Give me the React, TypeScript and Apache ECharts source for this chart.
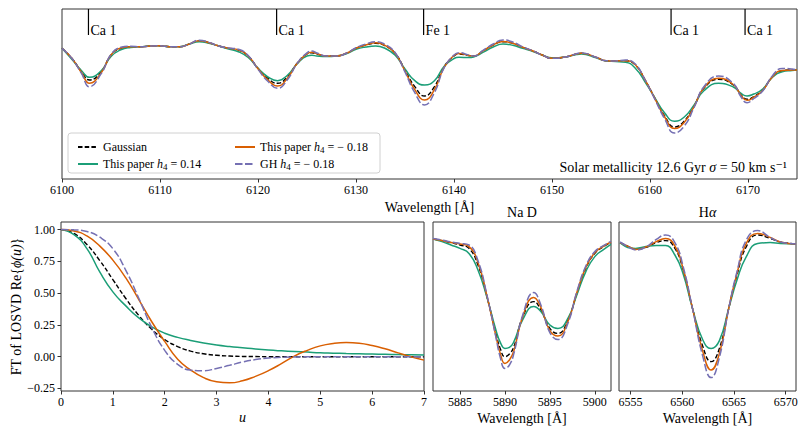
import React, { useEffect, useRef } from "react";
import * as echarts from "echarts";

// ---------- names ----------
const N_GAUSS = "Gaussian";
const N_POS = "This paper h4 = 0.14";
const N_NEG = "This paper h4 = -0.18";
const N_GH = "GH h4 = -0.18";

// ---------- top panel: 6100-6175 Å ----------
const WL_TOP = [
  6100, 6101, 6102, 6102.8, 6104, 6105, 6106, 6107, 6108, 6109,
  6110, 6111, 6112, 6113, 6114, 6115, 6116, 6117, 6118, 6119,
  6120, 6121, 6122, 6123, 6124, 6125, 6125.5, 6126, 6127, 6128,
  6129, 6130, 6131, 6132, 6133, 6134, 6135, 6136, 6137, 6138,
  6139, 6140, 6140.5, 6141.5, 6142, 6143, 6144, 6145, 6146, 6147,
  6148, 6149, 6150, 6151.5, 6152.5, 6153, 6154.5, 6155.5, 6156.5, 6157.5,
  6158.5, 6159.5, 6160.5, 6161.5, 6162.5, 6163.5, 6164.5, 6165.5, 6167, 6168.5,
  6169.3, 6169.9, 6170.6, 6171.5, 6172.5, 6173.5, 6174.5, 6175,
];
const TOP_GAUSS = [
  95.85, 90.85, 84.15, 80.0, 84.15, 92.5, 95.85, 96.65, 96.65, 97.0,
  97.15, 96.65, 96.65, 98.0, 99.65, 98.65, 97.0, 95.85, 95.0, 92.0,
  85.85, 80.85, 78.35, 81.65, 88.35, 93.0, 93.65, 93.0, 92.0, 92.0,
  93.35, 95.85, 97.5, 98.35, 97.0, 93.35, 85.0, 76.65, 72.0, 76.65,
  86.65, 92.0, 93.0, 92.25, 92.0, 94.65, 97.5, 99.15, 98.35, 96.35,
  94.65, 92.5, 90.85, 91.65, 93.0, 93.35, 91.35, 89.65, 89.5, 89.65,
  87.5, 80.0, 70.85, 62.0, 56.5, 59.5, 67.0, 75.85, 80.35, 77.5,
  72.5, 70.35, 71.75, 75.0, 81.65, 84.65, 85.0, 85.0,
];
const TOP_POS = [
  95.85, 90.35, 84.65, 81.35, 84.65, 91.75, 95.1, 96.3, 96.65, 97.0,
  97.15, 96.65, 96.65, 98.0, 99.15, 98.4, 97.0, 95.5, 94.15, 91.25,
  85.85, 81.6, 79.65, 82.4, 88.1, 92.0, 92.35, 92.0, 91.75, 92.0,
  93.1, 95.35, 96.5, 97.0, 95.75, 92.35, 85.5, 79.65, 77.5, 79.65,
  86.9, 90.75, 91.35, 91.25, 91.5, 93.9, 96.5, 98.0, 97.35, 95.85,
  94.4, 92.5, 91.1, 91.65, 92.75, 93.0, 91.1, 89.5, 89.25, 88.9,
  85.85, 79.0, 71.1, 63.5, 59.35, 61.5, 67.5, 74.6, 78.35, 76.5,
  73.25, 72.0, 73.0, 75.5, 81.4, 84.15, 84.75, 85.0,
];
const TOP_NEG = [
  95.85, 90.85, 83.65, 78.35, 83.65, 92.5, 96.0, 96.65, 96.65, 97.0,
  97.15, 96.65, 96.65, 98.0, 99.65, 98.65, 97.0, 95.85, 95.0, 92.0,
  85.6, 80.1, 77.0, 80.9, 88.35, 93.15, 93.9, 93.15, 92.0, 92.0,
  93.35, 95.85, 97.5, 98.6, 97.15, 93.35, 84.5, 75.15, 70.0, 75.15,
  86.4, 92.25, 93.25, 92.25, 92.0, 94.65, 97.5, 99.3, 98.35, 96.35,
  94.65, 92.5, 90.85, 91.65, 93.0, 93.35, 91.35, 89.65, 89.5, 89.65,
  87.65, 80.0, 70.7, 61.5, 55.7, 58.85, 66.75, 76.1, 80.85, 77.75,
  72.25, 69.85, 71.4, 74.75, 81.65, 84.8, 85.0, 85.0,
];
const TOP_GH = [
  95.85, 90.85, 83.15, 76.65, 83.15, 92.75, 96.35, 96.9, 96.65, 97.0,
  97.15, 96.65, 96.65, 98.0, 99.9, 98.8, 97.0, 96.0, 95.35, 92.25,
  85.35, 79.35, 75.85, 80.15, 88.35, 93.6, 94.5, 93.5, 92.0, 92.0,
  93.35, 96.1, 98.0, 99.15, 97.75, 93.6, 84.0, 73.65, 67.5, 73.65,
  86.15, 92.5, 93.65, 92.5, 92.0, 94.9, 98.0, 100.0, 99.0, 96.6,
  94.65, 92.5, 90.85, 91.65, 93.15, 93.5, 91.35, 89.65, 89.5, 90.0,
  88.0, 80.0, 70.35, 60.5, 53.5, 57.0, 66.25, 76.6, 82.0, 78.25,
  71.5, 68.65, 70.75, 74.5, 82.15, 85.8, 85.5, 85.0,
];
const TOP_X_TICKS = [6100, 6110, 6120, 6130, 6140, 6150, 6160, 6170];
const TOP_X_MIN = 6100;
const TOP_X_MAX = 6175;
const TOP_Y_MIN = 30.5;
const TOP_Y_MAX = 115.5;

// spectral line markers
const LINE_WL = [6102.7, 6121.9, 6136.9, 6162.15, 6169.7];
const LINE_NAMES = ["Ca 1", "Ca 1", "Fe 1", "Ca 1", "Ca 1"];

// ---------- FT of LOSVD ----------
const U = [
  0, 0.25, 0.5, 0.75, 1.0, 1.25, 1.5, 1.75, 2.0, 2.25,
  2.5, 2.75, 3.0, 3.25, 3.5, 3.75, 4.0, 4.25, 4.5, 4.75,
  5.0, 5.25, 5.5, 5.75, 6.0, 6.25, 6.5, 6.75, 7.0,
];
const FT_GAUSS = [
  1.0, 0.97, 0.883, 0.755, 0.607, 0.458, 0.325, 0.216, 0.135, 0.08,
  0.044, 0.023, 0.011, 0.005, 0.002, 0.001, 0, 0, 0, 0,
  0, 0, 0, 0, 0, 0, 0, 0, 0,
];
const FT_POS = [
  1.0, 0.96, 0.85, 0.665, 0.51, 0.4, 0.305, 0.235, 0.185, 0.152,
  0.128, 0.108, 0.092, 0.08, 0.07, 0.06, 0.052, 0.046, 0.041, 0.036,
  0.031, 0.028, 0.025, 0.023, 0.021, 0.019, 0.017, 0.015, 0.013,
];
const FT_NEG = [
  1.0, 0.99, 0.95, 0.87, 0.76, 0.62, 0.45, 0.275, 0.12, -0.02,
  -0.105, -0.165, -0.198, -0.206, -0.19, -0.155, -0.11, -0.055, 0.005, 0.05,
  0.085, 0.104, 0.111, 0.106, 0.088, 0.062, 0.03, 0.0, -0.027,
];
const FT_GH = [
  1.0, 0.998, 0.985, 0.94, 0.85, 0.68, 0.46, 0.23, 0.05, -0.06,
  -0.105, -0.11, -0.093, -0.068, -0.042, -0.023, -0.011, -0.005, -0.002, -0.001,
  0, 0, 0, 0, 0, 0, 0, 0, 0,
];
const FT_X_MIN = 0;
const FT_X_MAX = 7;
const FT_Y_MIN = -0.27;
const FT_Y_MAX = 1.06;
const FT_Y_TICKS = [-0.25, 0, 0.25, 0.5, 0.75, 1.0];

// ---------- Na D ----------
const WL_NAD = [
  5882, 5883, 5884, 5885, 5886, 5887, 5888, 5889, 5889.5, 5890,
  5890.5, 5891, 5892, 5893.2, 5894, 5895, 5895.9, 5897, 5898, 5899,
  5900, 5901, 5901.8,
];
const NAD_GAUSS = [
  1.005, 0.997, 0.987, 0.975, 0.958, 0.875, 0.717, 0.533, 0.455, 0.417,
  0.43, 0.467, 0.617, 0.692, 0.65, 0.558, 0.533, 0.6, 0.733, 0.858,
  0.933, 0.967, 0.987,
];
const NAD_POS = [
  1.005, 0.992, 0.975, 0.958, 0.933, 0.85, 0.713, 0.55, 0.487, 0.458,
  0.463, 0.492, 0.603, 0.667, 0.642, 0.575, 0.558, 0.608, 0.725, 0.842,
  0.917, 0.953, 0.978,
];
const NAD_NEG = [
  1.005, 0.997, 0.987, 0.98, 0.967, 0.887, 0.72, 0.52, 0.43, 0.383,
  0.4, 0.447, 0.62, 0.713, 0.663, 0.547, 0.52, 0.592, 0.737, 0.863,
  0.937, 0.97, 0.99,
];
const NAD_GH = [
  1.007, 1.0, 0.99, 0.983, 0.975, 0.897, 0.725, 0.513, 0.41, 0.358,
  0.375, 0.433, 0.627, 0.737, 0.675, 0.537, 0.503, 0.583, 0.742, 0.87,
  0.942, 0.973, 0.993,
];
const NAD_X_MIN = 5882;
const NAD_X_MAX = 5901.8;
const NAD_X_TICKS = [5885, 5890, 5895, 5900];

// ---------- H alpha ----------
const WL_HA = [
  6554, 6555, 6555.5, 6556.5, 6557.5, 6558.4, 6559.3, 6560.1, 6561, 6562,
  6562.8, 6563.6, 6564.5, 6565.3, 6566.2, 6567.3, 6568.5, 6569.5, 6571,
];
const HA_GAUSS = [
  0.987, 0.963, 0.953, 0.963, 0.987, 0.997, 0.958, 0.85, 0.658, 0.467,
  0.392, 0.458, 0.658, 0.825, 0.967, 1.025, 1.008, 0.99, 0.98,
];
const HA_POS = [
  0.987, 0.96, 0.958, 0.967, 0.973, 0.972, 0.925, 0.83, 0.658, 0.5,
  0.458, 0.497, 0.658, 0.8, 0.917, 0.983, 0.987, 0.983, 0.98,
];
const HA_NEG = [
  0.987, 0.963, 0.953, 0.965, 0.992, 1.007, 0.97, 0.855, 0.658, 0.442,
  0.35, 0.433, 0.658, 0.833, 0.983, 1.033, 1.013, 0.99, 0.98,
];
const HA_GH = [
  0.99, 0.96, 0.95, 0.965, 1.003, 1.025, 0.987, 0.867, 0.658, 0.417,
  0.312, 0.413, 0.658, 0.842, 1.0, 1.047, 1.013, 0.99, 0.98,
];
const HA_X_MIN = 6553.9;
const HA_X_MAX = 6571.0;
const HA_X_TICKS = [6555, 6560, 6565, 6570];

const SMALL_Y_MIN = 0.245;
const SMALL_Y_MAX = 1.09;

// ---------- styling ----------
const SERIF = "Liberation Serif, DejaVu Serif, serif";
const FRAME = "#333333";
const STYLES: Record<string, any> = {
  [N_GAUSS]: { color: "#000000", width: 1.4, type: [4.5, 2.2] },
  [N_POS]: { color: "#1b9e77", width: 1.5, type: "solid" },
  [N_NEG]: { color: "#d95f02", width: 1.5, type: "solid" },
  [N_GH]: { color: "#7570b3", width: 1.5, type: [7.5, 2.5] },
};
const LEGEND_TEXT: Record<string, string> = {
  [N_GAUSS]: "Gaussian",
  [N_POS]: "This paper {i|h}{s|4} = 0.14",
  [N_NEG]: "This paper {i|h}{s|4} = − 0.18",
  [N_GH]: "GH {i|h}{s|4} = − 0.18",
};

function lineSeries(name: string, xs: number[], ys: number[], idx: number) {
  const st = STYLES[name];
  return {
    type: "line",
    name,
    xAxisIndex: idx,
    yAxisIndex: idx,
    data: xs.map((x, i) => [x, ys[i]]),
    symbol: "none",
    showSymbol: false,
    smooth: 0.5,
    clip: true,
    silent: true,
    color: st.color,
    lineStyle: { color: st.color, width: st.width, type: st.type },
  };
}

function panelSeries(xs: number[], sets: number[][], idx: number) {
  const names = [N_GAUSS, N_POS, N_NEG, N_GH];
  return names.map((n, k) => lineSeries(n, xs, sets[k], idx));
}

const plain = (v: number) => String(v);
const tickLabel = { fontFamily: SERIF, fontSize: 12, color: "#000", margin: 5 };
const nameStyle = { fontFamily: SERIF, fontSize: 14, color: "#000" };
const gridBase = {
  show: true,
  borderColor: FRAME,
  borderWidth: 1,
  backgroundColor: "transparent",
  containLabel: false,
  outerBoundsMode: "none",
};

function xAxisDef(idx: number, min: number, max: number, ticks: number[] | null, name: string, gap: number, extra: any = {}) {
  const ax: any = {
    type: "value",
    gridIndex: idx,
    min,
    max,
    name,
    nameLocation: "middle",
    nameGap: gap,
    nameTextStyle: nameStyle,
    axisLine: { show: false, onZero: false },
    axisTick: { show: true, inside: false, length: 3.5, lineStyle: { color: FRAME, width: 1 } },
    axisLabel: { ...tickLabel, formatter: plain },
    splitLine: { show: false },
    ...extra,
  };
  if (ticks) {
    ax.axisTick.customValues = ticks;
    ax.axisLabel.customValues = ticks;
  }
  return ax;
}

function hiddenY(idx: number, min: number, max: number) {
  return {
    type: "value",
    gridIndex: idx,
    min,
    max,
    show: false,
    axisLine: { show: false, onZero: false },
    axisTick: { show: false },
    axisLabel: { show: false },
    splitLine: { show: false },
  };
}

function buildOption() {
  const legendCommon = {
    orient: "vertical",
    itemWidth: 20,
    itemHeight: 14,
    itemGap: 3,
    selectedMode: false,
    itemStyle: { opacity: 0 },
    formatter: (n: string) => LEGEND_TEXT[n],
    textStyle: {
      fontFamily: SERIF,
      fontSize: 12,
      lineHeight: 14,
      color: "#000",
      rich: {
        i: { fontFamily: SERIF, fontSize: 12, lineHeight: 14, fontStyle: "italic", color: "#000" },
        s: { fontFamily: SERIF, fontSize: 9, lineHeight: 14, verticalAlign: "bottom", color: "#000" },
      },
    },
  };

  const markers = {
    type: "custom",
    xAxisIndex: 0,
    yAxisIndex: 0,
    silent: true,
    clip: false,
    z: 10,
    data: LINE_WL.map((w) => [w, TOP_Y_MAX]),
    renderItem: (params: any, api: any) => {
      const p = api.coord([api.value(0), api.value(1)]);
      const label = LINE_NAMES[params.dataIndex];
      return {
        type: "group",
        children: [
          {
            type: "line",
            shape: { x1: p[0], y1: p[1], x2: p[0], y2: p[1] + 26 },
            style: { stroke: "#000", lineWidth: 1.2 },
          },
          {
            type: "text",
            x: p[0] + 2,
            y: p[1] + 21.5,
            style: {
              text: label,
              fill: "#000",
              font: `14px ${SERIF}`,
              align: "left",
              verticalAlign: "middle",
            },
          },
        ],
      };
    },
  };

  return {
    animation: false,
    backgroundColor: "#ffffff",
    grid: [
      { ...gridBase, left: 62, top: 9, width: 735, height: 170 },
      { ...gridBase, left: 61, top: 222, width: 363, height: 169 },
      { ...gridBase, left: 433, top: 222, width: 178, height: 169 },
      { ...gridBase, left: 619, top: 222, width: 177, height: 169 },
    ],
    xAxis: [
      xAxisDef(0, TOP_X_MIN, TOP_X_MAX, TOP_X_TICKS, "Wavelength [Å]", 21),
      xAxisDef(1, FT_X_MIN, FT_X_MAX, null, "u", 19, {
        interval: 1,
        nameTextStyle: { ...nameStyle, fontStyle: "italic" },
      }),
      xAxisDef(2, NAD_X_MIN, NAD_X_MAX, NAD_X_TICKS, "Wavelength [Å]", 20),
      xAxisDef(3, HA_X_MIN, HA_X_MAX, HA_X_TICKS, "Wavelength [Å]", 20),
    ],
    yAxis: [
      hiddenY(0, TOP_Y_MIN, TOP_Y_MAX),
      {
        type: "value",
        gridIndex: 1,
        min: FT_Y_MIN,
        max: FT_Y_MAX,
        name: "FT of LOSVD Re{{i|ϕ(u)}}",
        nameLocation: "middle",
        nameRotate: 90,
        nameGap: 38,
        nameTextStyle: {
          ...nameStyle,
          rich: { i: { fontFamily: SERIF, fontSize: 14, fontStyle: "italic", color: "#000" } },
        },
        axisLine: { show: false, onZero: false },
        axisTick: {
          show: true,
          inside: false,
          length: 3.5,
          lineStyle: { color: FRAME, width: 1 },
          customValues: FT_Y_TICKS,
        },
        axisLabel: {
          ...tickLabel,
          margin: 6,
          customValues: FT_Y_TICKS,
          formatter: (v: number) => (v < 0 ? "−" : "") + Math.abs(v).toFixed(2),
        },
        splitLine: { show: false },
      },
      hiddenY(2, SMALL_Y_MIN, SMALL_Y_MAX),
      hiddenY(3, SMALL_Y_MIN, SMALL_Y_MAX),
    ],
    legend: [
      { ...legendCommon, left: 72, top: 135, data: [N_GAUSS, N_POS] },
      { ...legendCommon, left: 229, top: 135, data: [N_NEG, N_GH] },
    ],
    graphic: [
      {
        type: "rect",
        z: 1,
        shape: { x: 68, y: 133, width: 312, height: 40, r: 3 },
        style: { fill: "rgba(255,255,255,0.85)", stroke: "#d0d0d0", lineWidth: 1 },
      },
      {
        type: "text",
        z: 5,
        x: 787,
        y: 167,
        style: {
          text: "Solar metallicity 12.6 Gyr {i|σ} = 50 km s⁻¹",
          font: `14px ${SERIF}`,
          fill: "#000",
          align: "right",
          verticalAlign: "middle",
          textAlign: "right",
          textVerticalAlign: "middle",
          rich: { i: { fontFamily: SERIF, fontSize: 14, fontStyle: "italic", fill: "#000", color: "#000" } },
        },
      },
      {
        type: "text",
        x: 522,
        y: 212,
        style: {
          text: "Na D",
          font: `14px ${SERIF}`,
          fill: "#000",
          align: "center",
          verticalAlign: "middle",
          textAlign: "center",
          textVerticalAlign: "middle",
        },
      },
      {
        type: "text",
        x: 707.5,
        y: 212,
        style: {
          text: "H{i|α}",
          font: `14px ${SERIF}`,
          fill: "#000",
          align: "center",
          verticalAlign: "middle",
          textAlign: "center",
          textVerticalAlign: "middle",
          rich: { i: { fontFamily: SERIF, fontSize: 14, fontStyle: "italic", fill: "#000", color: "#000" } },
        },
      },
    ],
    series: [
      ...panelSeries(WL_TOP, [TOP_GAUSS, TOP_POS, TOP_NEG, TOP_GH], 0),
      ...panelSeries(U, [FT_GAUSS, FT_POS, FT_NEG, FT_GH], 1),
      ...panelSeries(WL_NAD, [NAD_GAUSS, NAD_POS, NAD_NEG, NAD_GH], 2),
      ...panelSeries(WL_HA, [HA_GAUSS, HA_POS, HA_NEG, HA_GH], 3),
      markers,
    ],
  };
}

export default function App() {
  const ref = useRef<HTMLDivElement>(null);
  useEffect(() => {
    if (!ref.current) return;
    const chart = echarts.init(ref.current, undefined, { renderer: "svg" });
    chart.setOption(buildOption() as any);
    return () => chart.dispose();
  }, []);
  return (
    <div
      ref={ref}
      style={{ position: "absolute", left: 0, top: 0, width: 806, height: 433, background: "#fff" }}
    />
  );
}
